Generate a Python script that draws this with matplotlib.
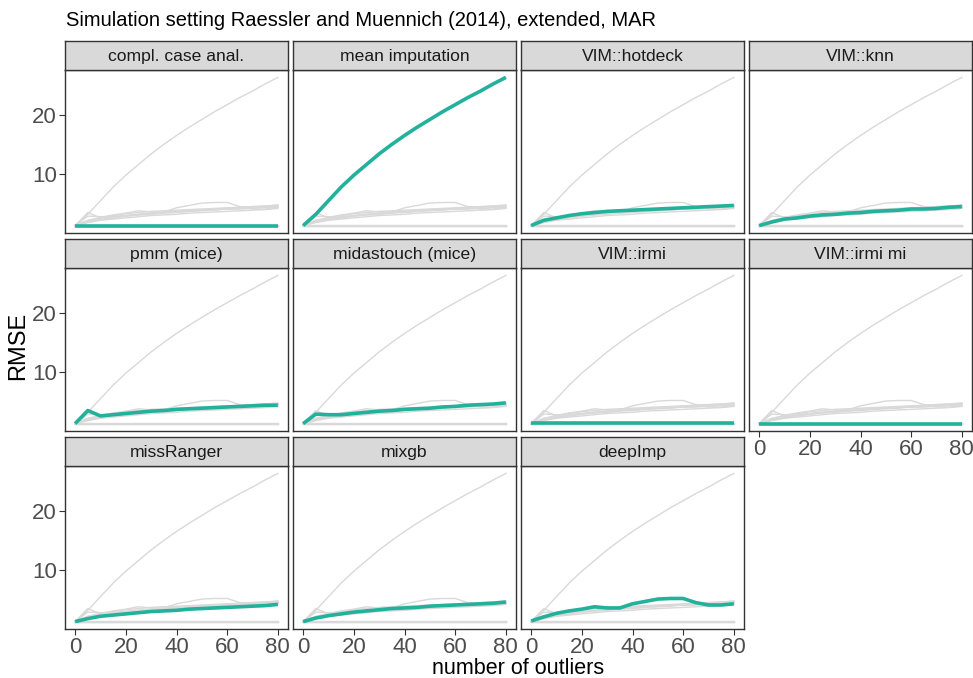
import matplotlib
matplotlib.use("Agg")
import matplotlib.pyplot as plt
import numpy as np

plt.rcParams['font.family'] = ['Liberation Sans', 'DejaVu Sans']

outliers = [0, 5, 10, 15, 20, 25, 30, 35, 40, 45, 50, 55, 60, 65, 70, 75, 80]

methods = ["compl. case anal.", "mean imputation", "VIM::hotdeck", "VIM::knn",
           "pmm (mice)", "midastouch (mice)", "VIM::irmi", "VIM::irmi mi",
           "missRanger", "mixgb", "deepImp"]

compl_case = [1.3, 1.3, 1.3, 1.3, 1.3, 1.3, 1.3, 1.3, 1.3, 1.3, 1.3, 1.3, 1.3, 1.3, 1.3, 1.3, 1.3]
mean_imp = [1.3, 3.2, 5.5, 7.8, 9.8, 11.6, 13.4, 15.0, 16.5, 17.9, 19.2, 20.5, 21.7, 22.9, 24.0, 25.2, 26.3]
hotdeck = [1.3, 2.2, 2.6, 3.0, 3.3, 3.5, 3.7, 3.8, 3.9, 4.0, 4.1, 4.2, 4.3, 4.4, 4.5, 4.6, 4.7]
knn = [1.3, 1.9, 2.4, 2.6, 2.9, 3.1, 3.2, 3.4, 3.5, 3.7, 3.8, 3.9, 4.1, 4.1, 4.2, 4.4, 4.5]
pmm = [1.3, 3.5, 2.6, 2.8, 3.0, 3.2, 3.4, 3.5, 3.7, 3.8, 3.9, 4.0, 4.1, 4.2, 4.3, 4.4, 4.4]
midastouch = [1.3, 2.9, 2.8, 2.8, 3.0, 3.2, 3.4, 3.5, 3.7, 3.8, 3.9, 4.1, 4.2, 4.4, 4.5, 4.6, 4.8]
irmi = [1.35, 1.35, 1.35, 1.35, 1.35, 1.35, 1.35, 1.35, 1.35, 1.35, 1.35, 1.35, 1.35, 1.35, 1.35, 1.35, 1.35]
irmi_mi = [1.3, 1.3, 1.3, 1.3, 1.3, 1.3, 1.3, 1.3, 1.3, 1.3, 1.3, 1.3, 1.3, 1.3, 1.3, 1.3, 1.3]
missranger = [1.3, 1.8, 2.2, 2.4, 2.6, 2.8, 3.0, 3.1, 3.2, 3.4, 3.5, 3.6, 3.7, 3.8, 3.9, 4.0, 4.2]
mixgb = [1.3, 1.9, 2.3, 2.6, 2.9, 3.1, 3.3, 3.5, 3.6, 3.7, 3.9, 4.0, 4.1, 4.2, 4.3, 4.4, 4.6]
deepimp = [1.4, 2.1, 2.7, 3.1, 3.4, 3.8, 3.6, 3.6, 4.3, 4.7, 5.1, 5.2, 5.2, 4.5, 4.1, 4.1, 4.3]

series = [compl_case, mean_imp, hotdeck, knn, pmm, midastouch, irmi, irmi_mi,
          missranger, mixgb, deepimp]

x_ticks = [0, 20, 40, 60, 80]
y_ticks = [10, 20]

TEAL = "#22B19B"
GRAY = "#D9D9D9"

W, H = 973, 678
fig = plt.figure(figsize=(W / 100, H / 100), dpi=100)

col_left = [65, 293, 521, 749]
col_w = 223
row_strip_top = [41, 239, 437]
strip_h = 29
panel_h = 163

def to_fig(x, y, w, h):
    return [x / W, 1 - (y + h) / H, w / W, h / H]

ymin = 1.3 - 0.05 * 25.0
ymax = 26.3 + 0.05 * 25.0
for i, (m, s) in enumerate(zip(methods, series)):
    r, c = divmod(i, 4)
    x0 = col_left[c]
    ys = row_strip_top[r]
    ax = fig.add_axes(to_fig(x0, ys + strip_h, col_w, panel_h))
    for s2 in series:
        ax.plot(outliers, s2, color=GRAY, lw=1.0, zorder=1)
    ax.plot(outliers, s, color=TEAL, lw=2.6, zorder=3, solid_capstyle='butt')
    ax.set_xlim(-4, 84)
    ax.set_ylim(ymin, ymax)
    ax.set_xticks(x_ticks)
    ax.set_yticks(y_ticks)
    for sp in ax.spines.values():
        sp.set_color("#333333")
        sp.set_linewidth(1.0)
    ax.tick_params(length=4, width=0.8, color="#333333", labelsize=16,
                   labelcolor="#4D4D4D", pad=2)
    if c != 0:
        ax.tick_params(axis='y', labelleft=False, length=0)
    show_x = (r == 2) or (r == 1 and c == 3)
    if not show_x:
        ax.tick_params(axis='x', labelbottom=False, length=0)
    # strip
    sax = fig.add_axes(to_fig(x0, ys, col_w, strip_h))
    sax.set_facecolor("#D9D9D9")
    sax.set_xticks([])
    sax.set_yticks([])
    for sp in sax.spines.values():
        sp.set_color("#333333")
        sp.set_linewidth(1.0)
    sax.text(0.5, 0.47, m, ha='center', va='center', fontsize=12.6,
             color="#1A1A1A", transform=sax.transAxes)

fig.text(66 / W, 1 - 20 / H, "Simulation setting Raessler and Muennich (2014), extended, MAR",
         ha='left', va='center', fontsize=14.5, color="black")
fig.text(18 / W, 1 - 346 / H, "RMSE", rotation=90, ha='center', va='center',
         fontsize=17, color="black")
fig.text(518 / W, 1 - 668 / H, "number of outliers", ha='center', va='center',
         fontsize=15.5, color="black")

fig.savefig("out.png", dpi=100, facecolor="white")
